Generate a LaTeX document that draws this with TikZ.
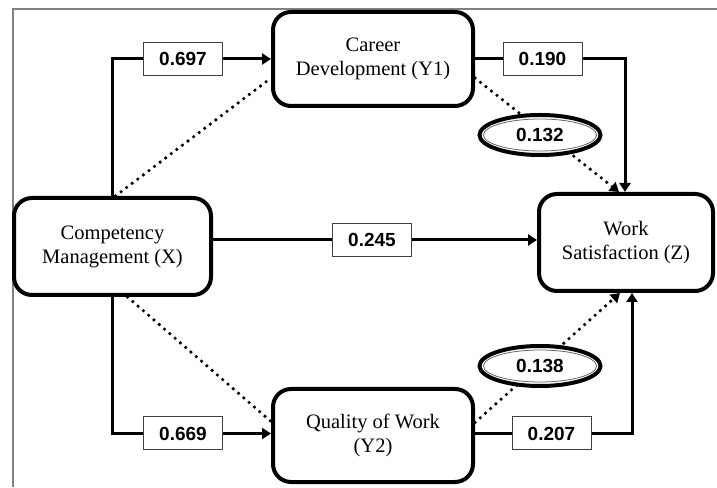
\documentclass[tikz,border=0pt]{standalone}
\usepackage{fontspec}
\setmainfont{Liberation Serif}
\newfontfamily\lblfont{Liberation Sans}
\usetikzlibrary{arrows.meta,positioning,shapes.geometric}

\begin{document}
\begin{tikzpicture}[
  x=1pt,y=1pt,
  every node/.style={font=\fontsize{20.5}{24}\selectfont},
  var/.style={draw,line width=4pt,rounded corners=18pt,align=center,
    minimum width=200pt,minimum height=94pt,inner sep=2pt},
  coef/.style={draw=black!75,line width=1pt,fill=white,minimum width=79pt,
    minimum height=33pt,inner sep=0pt,font=\lblfont\bfseries\fontsize{19}{22}\selectfont},
  oval/.style={coef,ellipse,draw=black,line width=4pt,minimum width=121pt,minimum height=40pt},
  arr/.style={-{Triangle[length=9pt,width=11pt]},line width=3pt},
  link/.style={line width=3pt},
  dots/.style={line width=3.6pt,line cap=round,dash pattern=on 0pt off 7pt}
]
  \useasboundingbox (0,0) rectangle (717,487);
  \draw[black!50,line width=1.2pt] (13,0) -- (13,478) -- (717,478);

  % variables
  \node[var] (career) at (373,428) {Career\\Development (Y1)};
  \node[var,minimum width=197pt,minimum height=97pt] (comp) at (112.5,240.5) {Competency\\Management (X)};
  \node[var,minimum width=174pt,minimum height=97pt] (satis) at (626,244.5) {Work\\Satisfaction (Z)};
  \node[var,minimum height=93pt] (quality) at (373,51.5) {Quality of Work\\(Y2)};

  % path coefficients
  \node[coef] (lxy1) at (183,428) {0.697};
  \node[coef] (ly1z) at (542.5,428) {0.190};
  \node[coef] (lxz) at (372,247) {0.245};
  \node[coef] (lxy2) at (183,53.5) {0.669};
  \node[coef] (ly2z) at (551.5,53.5) {0.207};

  \draw[link] (comp.north) |- (lxy1.west);
  \draw[arr] (lxy1.east) -- (career.west |- lxy1);
  \draw[link] (career.east |- ly1z) -- (ly1z.west);
  \draw[arr] (ly1z.east) -| ([xshift=-1pt]satis.north);
  \draw[link] (comp.east |- lxz) -- (lxz.west);
  \draw[arr] (lxz.east) -- (satis.west |- lxz);
  \draw[link] (comp.south) |- (lxy2.west);
  \draw[arr] (lxy2.east) -- (quality.west |- lxy2);
  \draw[link] (quality.east |- ly2z) -- (ly2z.west);
  \draw[arr] (ly2z.east) -| ([xshift=6pt]satis.south);

  % indirect effects
  \draw[dots] ([xshift=3pt]comp.north) -- ([yshift=-19pt]career.west);
  \draw[dots] ([xshift=15pt]comp.south) -- ([yshift=14pt]quality.west);
  \draw[arr,dots] ([yshift=-19pt]career.east) -- ([xshift=-7pt]satis.north);
  \draw[arr,dots] ([yshift=13pt]quality.east) -- ([xshift=-6pt]satis.south);

  \node[oval] (ey1) at (540,352) {0.132};
  \draw[black!60,line width=0.8pt] (ey1.center) ellipse [x radius=56.5pt,y radius=16pt];
  \node[oval] (ey2) at (540,121) {0.138};
  \draw[black!60,line width=0.8pt] (ey2.center) ellipse [x radius=56.5pt,y radius=16pt];
\end{tikzpicture}
\end{document}
